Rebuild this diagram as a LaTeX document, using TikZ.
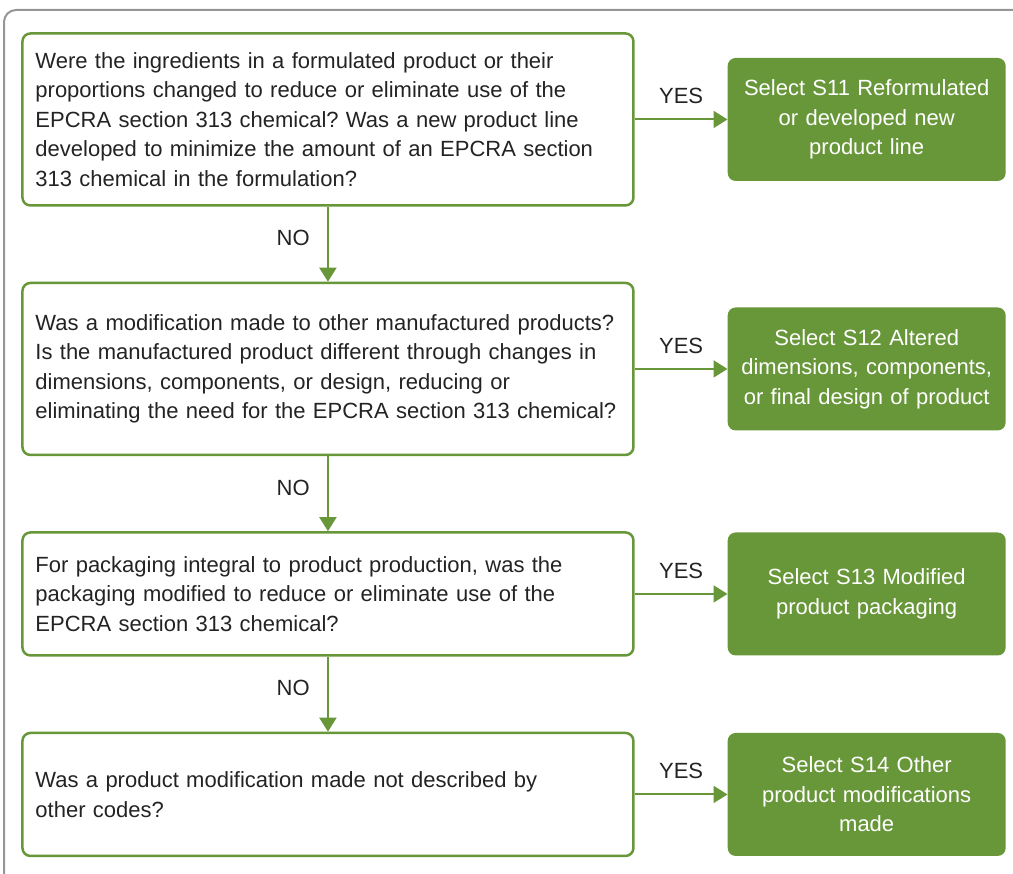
\documentclass[tikz,border=0pt]{standalone}
\usepackage{fontspec}
\setmainfont{Liberation Sans}
\usetikzlibrary{matrix,arrows.meta,positioning}

\definecolor{epagreen}{RGB}{104,151,58}
\definecolor{framegray}{RGB}{150,150,150}
\definecolor{txtgray}{RGB}{35,35,35}

\tikzset{
qbox/.style={draw=epagreen, line width=2.5pt, rounded corners=8pt, text width=585pt, inner xsep=13pt, minimum height=172pt, align=left},
selbox/.style={fill=epagreen, draw=none, rounded corners=8pt, text width=262pt, inner xsep=8pt, minimum height=123pt, align=center, text=white},
flow/.style={draw=epagreen, line width=2pt, -{Triangle[width=17pt,length=14pt]}},
}

\begin{document}
\frenchspacing
\begin{tikzpicture}[x=1pt, y=-1pt, font=\fontsize{22}{29.5}\selectfont, text=txtgray]

\useasboundingbox (0,0) rectangle (1013,874);
\begin{scope}
\clip (0,0) rectangle (1013,874);
\draw[framegray, line width=2pt, rounded corners=12pt] (4,10) rectangle (1030,890);
\end{scope}

\matrix (m) at (21,32) [matrix of nodes, anchor=north west, inner sep=0pt, column sep=93pt, row sep=75pt,
 nodes={anchor=center}, column 1/.style={nodes={qbox}}, column 2/.style={nodes={selbox}}]
{
{Were the ingredients in a formulated product or their\\ proportions changed to reduce or eliminate use of the\\ EPCRA section 313 chemical? Was a new product line\\ developed to minimize the amount of an EPCRA section\\ 313 chemical in the formulation?} &
{Select S11 Reformulated\\ or developed new\\ product line} \\
{Was a modification made to other manufactured products?\\ Is the manufactured product different through changes in\\ dimensions, components, or design, reducing or\\ eliminating the need for the EPCRA section 313 chemical?} &
{Select S12 Altered\\ dimensions, components,\\ or final design of product} \\
|[minimum height=123pt]| {For packaging integral to product production, was the\\ packaging modified to reduce or eliminate use of the\\ EPCRA section 313 chemical?} &
{Select S13 Modified\\ product packaging} \\
|[minimum height=123pt]| {Was a product modification made not described by\\ other codes?} &
{Select S14 Other\\ product modifications\\ made} \\
};

\draw[flow] (m-1-1) -- node[above=11pt]{YES} (m-1-2);
\draw[flow] (m-2-1) -- node[above=11pt]{YES} (m-2-2);
\draw[flow] (m-3-1) -- node[above=11pt]{YES} (m-3-2);
\draw[flow] (m-4-1) -- node[above=11pt]{YES} (m-4-2);

\draw[flow] (m-1-1) -- node[pos=0.42, left=14pt]{NO} (m-2-1);
\draw[flow] (m-2-1) -- node[pos=0.42, left=14pt]{NO} (m-3-1);
\draw[flow] (m-3-1) -- node[pos=0.42, left=14pt]{NO} (m-4-1);
\end{tikzpicture}
\end{document}
